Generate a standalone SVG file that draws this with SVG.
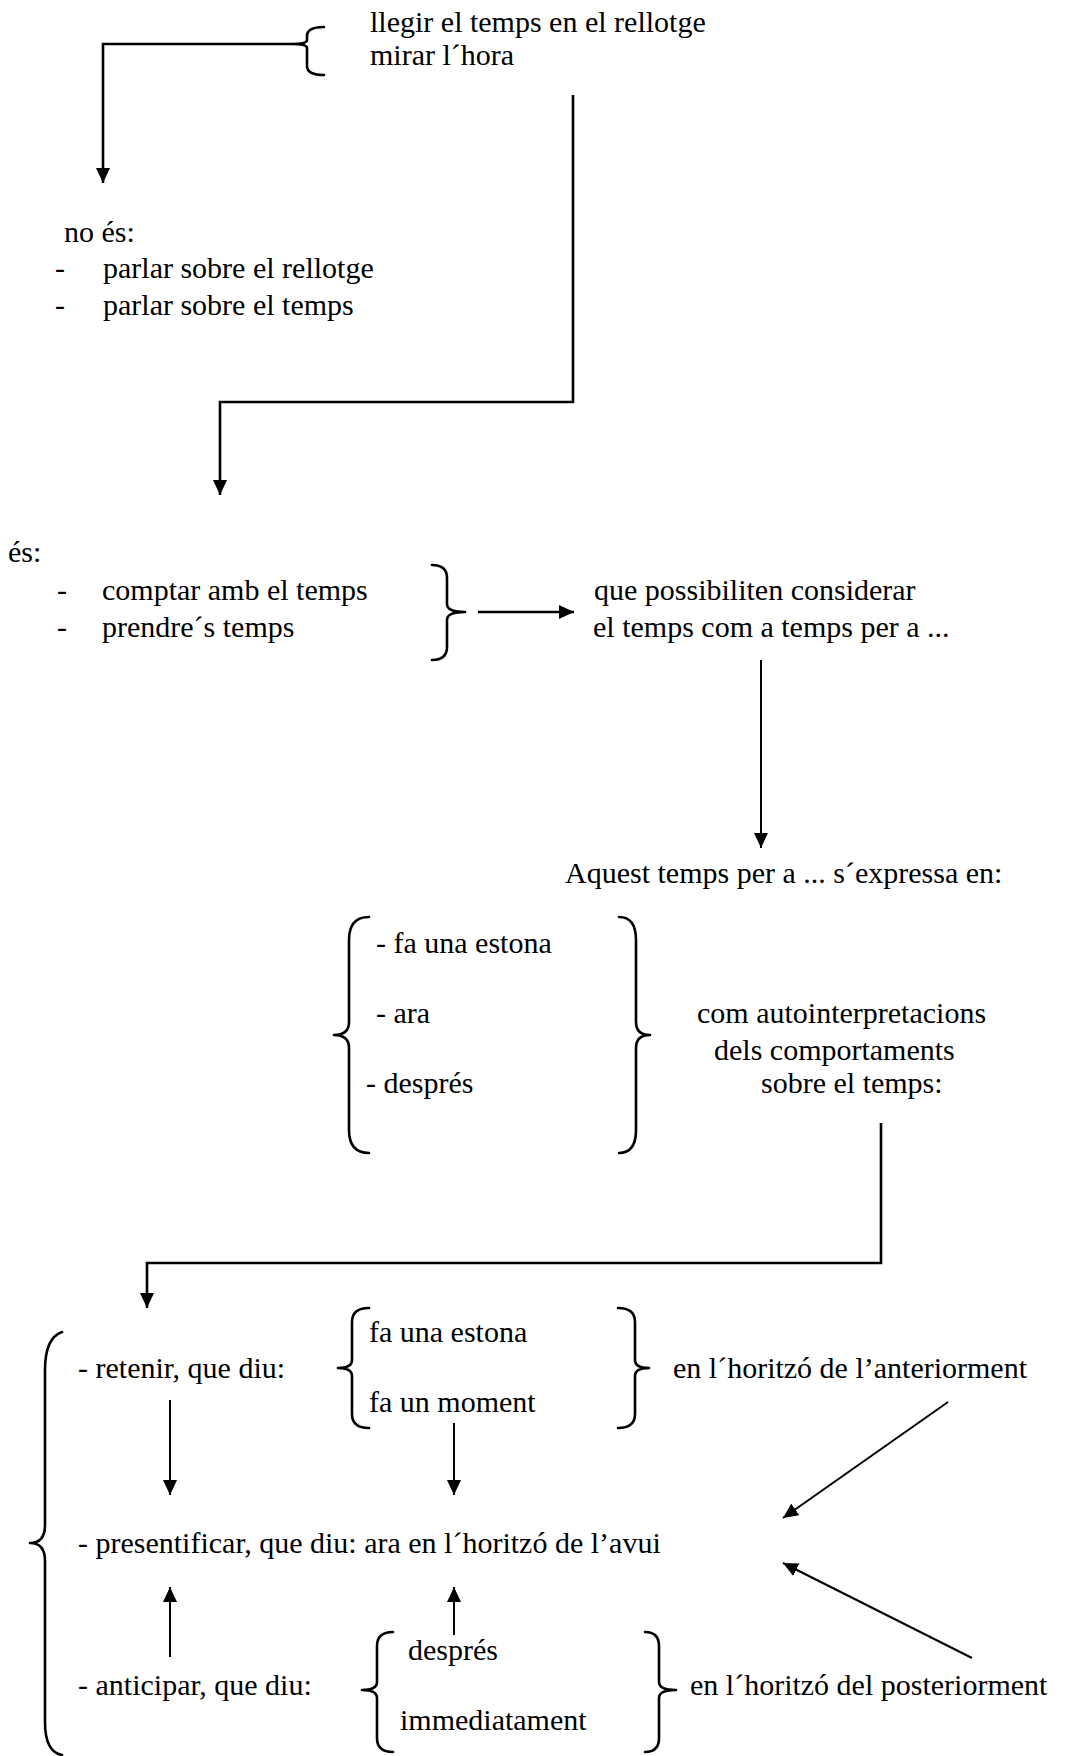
<svg xmlns="http://www.w3.org/2000/svg" width="1065" height="1756" viewBox="0 0 1065 1756">
<defs>
<style>
text{font-family:"Liberation Serif","Times New Roman",serif;font-size:30px;fill:#000}
.ln{fill:none;stroke:#000;stroke-width:2}
.thick{stroke-width:2.6}
.br{fill:none;stroke:#000;stroke-width:2.6;stroke-linejoin:round;stroke-linecap:round}
</style>
<marker id="ah" markerUnits="userSpaceOnUse" markerWidth="16" markerHeight="14" refX="15" refY="7" orient="auto">
<path d="M0,0 L15,7 L0,14 z" fill="#000"/>
</marker>
</defs>
<rect width="1065" height="1756" fill="#fff"/>

<g id="connectors">
<path class="ln thick" d="M292,44 L103,44 L103,183" marker-end="url(#ah)"/>
<path class="ln thick" d="M573,95 L573,402 L220,402 L220,495" marker-end="url(#ah)"/>
<path class="ln thick" d="M478,612 L574,612" marker-end="url(#ah)"/>
<path class="ln" d="M761,660 L761,848" marker-end="url(#ah)"/>
<path class="ln thick" d="M881,1123 L881,1263 L147,1263 L147,1308" marker-end="url(#ah)"/>
<path class="ln" d="M170,1400 L170,1495" marker-end="url(#ah)"/>
<path class="ln" d="M454,1423 L454,1495" marker-end="url(#ah)"/>
<path class="ln" d="M170,1657 L170,1587" marker-end="url(#ah)"/>
<path class="ln" d="M454,1635 L454,1587" marker-end="url(#ah)"/>
<path class="ln" d="M948,1402 L783,1518" marker-end="url(#ah)"/>
<path class="ln" d="M972,1658 L783,1563" marker-end="url(#ah)"/>
</g>

<g id="n-llegir">
<path class="br" d="M324,27 Q307,27 307,36 L307,40 Q307,44 292,44 Q307,44 307,48 L307,66 Q307,75 324,75"/>
<text x="370" y="32">llegir el temps en el rellotge</text>
<text x="370" y="65">mirar l´hora</text>
</g>

<g id="n-noes">
<text x="64" y="242">no és:</text>
<text x="55" y="278">-</text><text x="103" y="278">parlar sobre el rellotge</text>
<text x="55" y="315">-</text><text x="103" y="315">parlar sobre el temps</text>
</g>

<g id="n-es">
<text x="8" y="562">és:</text>
<text x="57" y="600">-</text><text x="102" y="600">comptar amb el temps</text>
<text x="57" y="637">-</text><text x="102" y="637">prendre´s temps</text>
<path class="br" d="M432,565 Q447,565 447,578 L447,604 Q447,612 465,612 Q447,612 447,620 L447,647 Q447,660 432,660"/>
</g>

<g id="n-possibiliten">
<text x="594" y="600">que possibiliten considerar</text>
<text x="593" y="637">el temps com a temps per a ...</text>
</g>

<g id="n-aquest">
<text x="565" y="883">Aquest temps per a ... s´expressa en:</text>
</g>

<g id="n-llista">
<path class="br" d="M369,917 Q349,917 349,940 L349,1022 Q349,1035 334,1035 Q349,1035 349,1048 L349,1130 Q349,1153 369,1153"/>
<text x="376" y="953">- fa una estona</text>
<text x="376" y="1023">- ara</text>
<text x="366" y="1093">- després</text>
<path class="br" d="M619,917 Q636,917 636,940 L636,1022 Q636,1035 650,1035 Q636,1035 636,1048 L636,1130 Q636,1153 619,1153"/>
</g>

<g id="n-autointerpretacions">
<text x="697" y="1023">com autointerpretacions</text>
<text x="714" y="1060">dels comportaments</text>
<text x="761" y="1093">sobre el temps:</text>
</g>

<g id="n-retenir">
<text x="78" y="1378">- retenir, que diu:</text>
<path class="br" d="M369,1308 Q352,1308 352,1322 L352,1360 Q352,1368 338,1368 Q352,1368 352,1376 L352,1414 Q352,1428 369,1428"/>
<text x="369" y="1342">fa una estona</text>
<text x="369" y="1412">fa un moment</text>
<path class="br" d="M618,1308 Q635,1308 635,1322 L635,1360 Q635,1368 649,1368 Q635,1368 635,1376 L635,1414 Q635,1428 618,1428"/>
<text x="673" y="1378">en l´horitzó de l’anteriorment</text>
</g>

<g id="n-presentificar">
<text x="78" y="1553">- presentificar, que diu: ara en l´horitzó de l’avui</text>
</g>

<g id="n-anticipar">
<text x="78" y="1695">- anticipar, que diu:</text>
<path class="br" d="M393,1632 Q377,1632 377,1646 L377,1682 Q377,1690 362,1690 Q377,1690 377,1698 L377,1738 Q377,1752 393,1752"/>
<text x="408" y="1660">després</text>
<text x="400" y="1730">immediatament</text>
<path class="br" d="M645,1632 Q659,1632 659,1646 L659,1682 Q659,1690 676,1690 Q659,1690 659,1698 L659,1738 Q659,1752 645,1752"/>
<text x="690" y="1695">en l´horitzó del posteriorment</text>
</g>

<g id="n-brace-gran">
<path class="br" d="M62,1332 Q45,1338 45,1370 L45,1525 Q45,1543 30,1543 Q45,1543 45,1561 L45,1722 Q45,1752 62,1755"/>
</g>
</svg>
